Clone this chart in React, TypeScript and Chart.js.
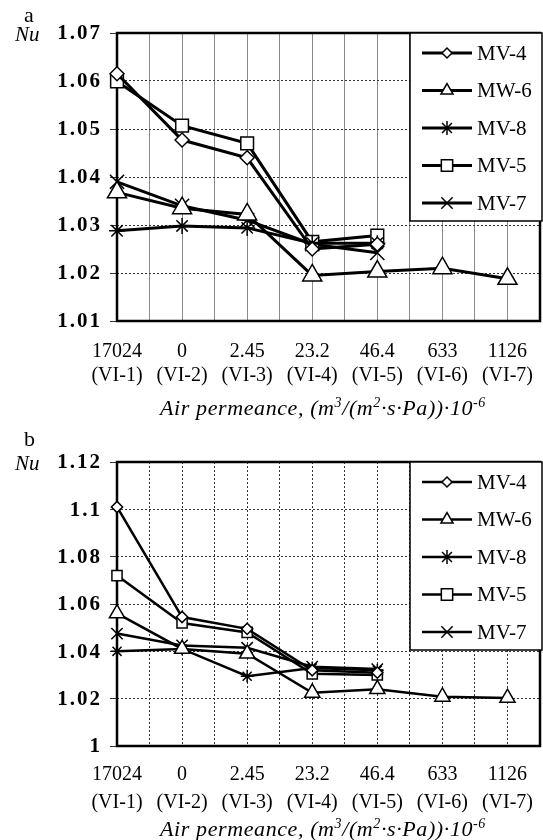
import React, { useEffect, useRef } from "react";
import { Chart, registerables } from "chart.js";
import { drawPoint } from "chart.js/helpers";
Chart.register(...registerables);

// ---------- data ----------
const xValues = ["17024", "0", "2.45", "23.2", "46.4", "633", "1126"];
const xCodes = ["(VI-1)", "(VI-2)", "(VI-3)", "(VI-4)", "(VI-5)", "(VI-6)", "(VI-7)"];
const seriesNames = ["MV-4", "MW-6", "MV-8", "MV-5", "MV-7"];

// panel a
const aMV4 = [1.0615, 1.0477, 1.044, 1.025, 1.026, null, null];
const aMW6 = [1.0368, 1.0335, 1.0322, 1.0195, 1.0203, 1.021, 1.0188];
const aMV8 = [1.0288, 1.0298, 1.0294, 1.0262, 1.0262, null, null];
const aMV5 = [1.0599, 1.0507, 1.047, 1.0265, 1.0278, null, null];
const aMV7 = [1.039, 1.034, 1.031, 1.026, 1.0242, null, null];

// panel b
const bMV4 = [1.101, 1.0545, 1.0495, 1.032, 1.031, null, null];
const bMW6 = [1.056, 1.041, 1.039, 1.0225, 1.024, 1.0208, 1.0203];
const bMV8 = [1.04, 1.041, 1.0295, 1.033, 1.032, null, null];
const bMV5 = [1.072, 1.052, 1.048, 1.0305, 1.03, null, null];
const bMV7 = [1.0475, 1.0425, 1.0415, 1.0335, 1.0325, null, null];

const yRangeA = { min: 1.01, max: 1.07, step: 0.01 };
const yRangeB = { min: 1.0, max: 1.12, step: 0.02 };

// ---------- styles ----------
const markerStyles = [
  { pointStyle: "rectRot", radius: 7, legendRadius: 5 },
  { pointStyle: "triangle", radius: 11, legendRadius: 7 },
  { pointStyle: "star", radius: 8, legendRadius: 7 },
  { pointStyle: "rect", radius: 9, legendRadius: 8 },
  { pointStyle: "crossRot", radius: 10, legendRadius: 8 },
];

const SERIF = "'Liberation Serif', 'Times New Roman', serif";

function toPoints(vals: (number | null)[]) {
  const pts: { x: number; y: number }[] = [];
  vals.forEach((v, i) => {
    if (v !== null) pts.push({ x: i, y: v });
  });
  return pts;
}

function drawTitle(ctx: CanvasRenderingContext2D, cx: number, baseY: number) {
  const segs = [
    { t: "Air permeance, (m", s: false },
    { t: "3", s: true },
    { t: "/(m", s: false },
    { t: "2", s: true },
    { t: "\u00B7s\u00B7Pa))\u00B710", s: false },
    { t: "-6", s: true },
  ];
  const big = `italic 22px ${SERIF}`;
  const small = `italic 14px ${SERIF}`;
  (ctx as any).letterSpacing = "0.6px";
  let total = 0;
  for (const sg of segs) {
    ctx.font = sg.s ? small : big;
    total += ctx.measureText(sg.t).width;
  }
  let x = cx - total / 2;
  ctx.textBaseline = "alphabetic";
  ctx.textAlign = "left";
  ctx.fillStyle = "#000";
  for (const sg of segs) {
    ctx.font = sg.s ? small : big;
    ctx.fillText(sg.t, x, sg.s ? baseY - 8 : baseY);
    x += ctx.measureText(sg.t).width;
  }
  (ctx as any).letterSpacing = "0px";
}

function makeDeco(letter: string, letterY: number, titleBase: number, lineW: number, yFmt: (v: number) => string) {
  return {
    id: "deco_" + letter,
    beforeDatasetsDraw(chart: any) {
      const { ctx, chartArea: ca } = chart;
      ctx.save();
      ctx.strokeStyle = "#000";
      ctx.lineWidth = 2.5;
      ctx.strokeRect(ca.left, ca.top, ca.right - ca.left, ca.bottom - ca.top);
      ctx.restore();
    },
    afterDatasetsDraw(chart: any) {
      const { ctx, chartArea: ca } = chart;
      ctx.save();
      // y tick labels (from the library's scale)
      const ys = chart.scales.y;
      ctx.fillStyle = "#000";
      ctx.font = `bold 21px ${SERIF}`;
      ctx.textAlign = "right";
      ctx.textBaseline = "middle";
      (ctx as any).letterSpacing = "2px";
      ys.ticks.forEach((t: any, i: number) => {
        ctx.fillText(yFmt(t.value), ca.left - 15, ys.getPixelForTick(i) + 1);
      });
      (ctx as any).letterSpacing = "0px";
      // panel letter
      ctx.font = `22px ${SERIF}`;
      ctx.textAlign = "left";
      ctx.fillText(letter, 24, letterY);
      // Nu
      ctx.font = `italic 21px ${SERIF}`;
      ctx.fillText("Nu", 15, ca.top + 2);
      // axis title
      drawTitle(ctx, 323, titleBase);
      // legend
      const right = ca.right + 2;
      const left = right - 132;
      const top = ca.top;
      const h = 188;
      ctx.fillStyle = "#fff";
      ctx.fillRect(left, top, right - left, h);
      ctx.strokeStyle = "#000";
      ctx.lineWidth = 1.5;
      ctx.strokeRect(left, top, right - left, h);
      chart.data.datasets.forEach((ds: any, i: number) => {
        const y = top + 20 + i * 37.5;
        ctx.strokeStyle = "#000";
        ctx.lineWidth = lineW;
        ctx.beginPath();
        ctx.moveTo(left + 12, y);
        ctx.lineTo(left + 62, y);
        ctx.stroke();
        ctx.fillStyle = "#fff";
        ctx.lineWidth = 1.5;
        drawPoint(ctx, {
          pointStyle: markerStyles[i].pointStyle,
          radius: markerStyles[i].legendRadius,
          rotation: 0,
          borderWidth: 1.5,
        } as any, left + 37, y);
        ctx.fillStyle = "#000";
        ctx.font = `21px ${SERIF}`;
        ctx.textAlign = "left";
        ctx.textBaseline = "middle";
        ctx.fillText(ds.label, left + 67, y + 1);
      });
      ctx.restore();
    },
  };
}

function PanelChart(props: {
  series: (number | null)[][];
  yr: { min: number; max: number; step: number };
  letter: string;
  padTop: number;
  axisH: number;
  letterY: number;
  titleBase: number;
  lineW: number;
  yFmt: (v: number) => string;
  xGridColor: string;
  xGridDash: number[];
  markerScale: number;
  tickPad: number;
  tickLH: number;
}) {
  const ref = useRef<HTMLCanvasElement>(null);
  useEffect(() => {
    if (!ref.current) return;
    const p = props;
    const chart = new Chart(ref.current, {
      type: "line",
      data: {
        datasets: p.series.map((vals, i) => ({
          label: seriesNames[i],
          data: toPoints(vals),
          borderColor: "#000",
          borderWidth: p.lineW,
          tension: 0,
          pointStyle: markerStyles[i].pointStyle as any,
          pointRadius: markerStyles[i].radius * p.markerScale,
          pointBackgroundColor: "#fff",
          pointBorderColor: "#000",
          pointBorderWidth: 1.5,
          fill: false,
          clip: false,
        })),
      },
      options: {
        animation: false,
        responsive: false,
        events: [],
        layout: { autoPadding: false, padding: { top: p.padTop, right: 3, left: 0, bottom: 0 } },
        plugins: { legend: { display: false }, tooltip: { enabled: false } },
        scales: {
          x: {
            type: "linear",
            min: 0,
            max: 6.5,
            afterFit: (s: any) => {
              s.height = p.axisH;
              s.paddingLeft = 0;
              s.paddingRight = 0;
            },
            afterBuildTicks: (s: any) => {
              const t = [];
              for (let i = 0; i <= 13; i++) t.push({ value: i / 2 });
              s.ticks = t;
            },
            ticks: {
              autoSkip: false,
              maxRotation: 0,
              padding: p.tickPad,
              color: "#000",
              font: { family: SERIF, size: 20, lineHeight: p.tickLH },
              callback: (v: any) => {
                const n = Number(v);
                if (Math.abs(n - Math.round(n)) > 1e-6) return "";
                const k = Math.round(n);
                return [xValues[k], xCodes[k]];
              },
            },
            grid: {
              color: p.xGridColor,
              lineWidth: 1,
              drawTicks: false,
              borderDash: p.xGridDash,
            },
            border: { display: false, dash: p.xGridDash } as any,
          },
          y: {
            type: "linear",
            min: p.yr.min,
            max: p.yr.max,
            afterFit: (s: any) => {
              s.width = 117;
              s.paddingTop = 0;
              s.paddingBottom = 0;
            },
            afterBuildTicks: (s: any) => {
              const t = [];
              const n = Math.round((p.yr.max - p.yr.min) / p.yr.step);
              for (let i = 0; i <= n; i++) t.push({ value: p.yr.min + i * p.yr.step });
              s.ticks = t;
            },
            ticks: {
              display: false,
            },
            grid: {
              color: "#333",
              lineWidth: 1,
              tickLength: 7,
              tickColor: "#333",
              borderDash: [2, 2],
            },
            border: { display: false, dash: [2, 2] } as any,
          },
        },
      } as any,
      plugins: [makeDeco(p.letter, p.letterY, p.titleBase, p.lineW, p.yFmt)],
    });
    return () => chart.destroy();
  }, []);
  return <canvas ref={ref} width={543} height={420} style={{ display: "block", width: 543, height: 420 }} />;
}

export default function App() {
  return (
    <div style={{ position: "absolute", left: 0, top: 0, width: 543, height: 840, background: "#fff" }}>
      <PanelChart
        series={[aMV4, aMW6, aMV8, aMV5, aMV7]}
        yr={yRangeA}
        letter="a"
        padTop={33}
        axisH={99}
        letterY={16}
        titleBase={415}
        lineW={3}
        yFmt={(v) => v.toFixed(2)}
        xGridColor="#8a8a8a"
        xGridDash={[]}
        markerScale={1}
        tickPad={19}
        tickLH={1.2}
      />
      <PanelChart
        series={[bMV4, bMW6, bMV8, bMV5, bMV7]}
        yr={yRangeB}
        letter="b"
        padTop={42}
        axisH={94}
        letterY={20}
        titleBase={416}
        lineW={2.5}
        yFmt={(v) => String(Number(v.toFixed(2)))}
        xGridColor="#333"
        xGridDash={[2, 2]}
        markerScale={0.8}
        tickPad={15}
        tickLH={1.4}
      />
    </div>
  );
}
